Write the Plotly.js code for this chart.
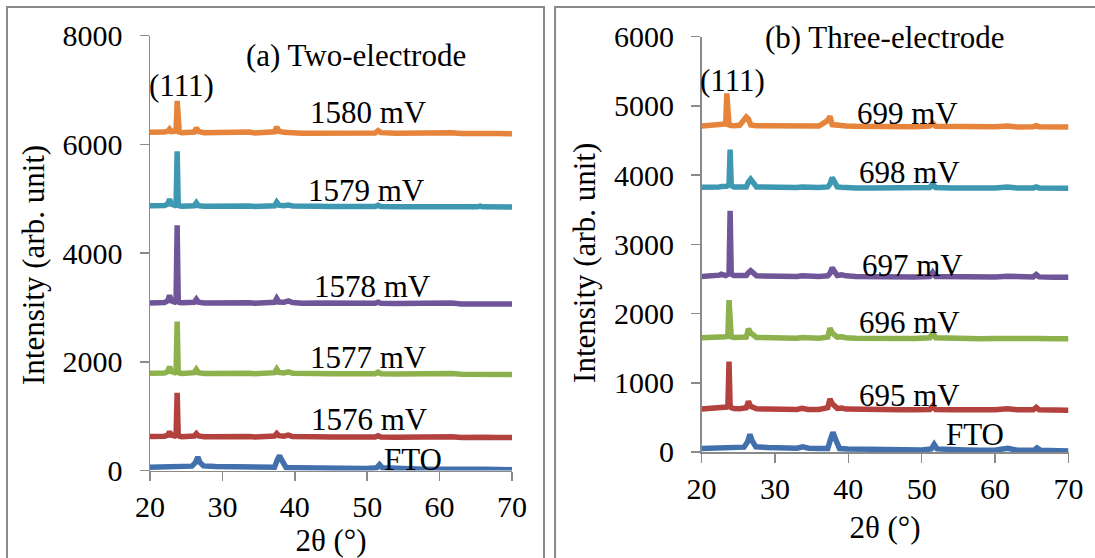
<!DOCTYPE html>
<html>
<head>
<meta charset="utf-8">
<script src="https://cdn.plot.ly/plotly-3.0.1.min.js"></script>
<style>
html,body{margin:0;padding:0;background:#fff;}
#chart{width:1095px;height:558px;}
</style>
</head>
<body>
<div id="chart"></div>
<script>
// ---- 2θ grids (degrees) ----
var thetaFilm = [20, 21, 22, 22.45, 22.7, 22.95, 23.3, 23.45, 23.6, 23.75, 23.9, 24.05, 24.4, 25.2, 26.1, 26.4, 26.7, 27.5, 29, 31, 33, 33.7, 34.5, 36, 37.2, 37.5, 37.8, 38.5, 39.1, 39.7, 41, 43, 45, 47, 49, 51.1, 51.5, 51.9, 54, 56, 58, 60, 61.7, 63, 65.2, 65.6, 66, 68, 70];
var thetaFTO = [20, 21.5, 23, 24.5, 25.8, 26.3, 26.6, 26.9, 27.4, 29, 31, 33, 33.8, 34.6, 36, 37.2, 37.6, 37.9, 38.2, 38.8, 40, 42, 44, 46, 48, 50, 51.3, 51.7, 52.1, 54, 56, 58, 60, 61.7, 63, 65.3, 65.7, 66.2, 68, 70];

// ---- (a) Two-electrode intensities ----
var a_FTO  = [60, 65, 70, 75, 80, 150, 250, 150, 85, 75, 70, 65, 80, 65, 60, 60, 200, 275, 190, 55, 50, 45, 45, 40, 40, 35, 50, 110, 50, 30, 30, 25, 25, 45, 25, 25, 50, 25, 20, 15];
var a_1576 = [625, 620, 630, 650, 715, 650, 630, 635, 650, 1430, 655, 630, 620, 625, 635, 680, 635, 620, 625, 615, 620, 625, 615, 620, 635, 680, 640, 630, 650, 625, 615, 620, 615, 610, 615, 615, 640, 615, 610, 615, 605, 610, 620, 605, 610, 625, 610, 605, 605];
var a_1577 = [1790, 1785, 1795, 1820, 1910, 1820, 1795, 1800, 1815, 2740, 1820, 1795, 1785, 1790, 1800, 1860, 1800, 1785, 1790, 1780, 1785, 1790, 1780, 1785, 1800, 1865, 1805, 1795, 1815, 1790, 1780, 1785, 1780, 1775, 1780, 1780, 1810, 1780, 1775, 1780, 1770, 1775, 1785, 1770, 1770, 1785, 1770, 1770, 1765];
var a_1578 = [3080, 3085, 3090, 3120, 3220, 3120, 3090, 3095, 3110, 4510, 3120, 3090, 3085, 3085, 3095, 3150, 3095, 3080, 3085, 3075, 3080, 3085, 3075, 3080, 3095, 3165, 3100, 3095, 3120, 3090, 3075, 3080, 3075, 3070, 3075, 3075, 3095, 3075, 3070, 3075, 3065, 3070, 3080, 3065, 3070, 3080, 3070, 3065, 3065];
var a_1579 = [4870, 4865, 4875, 4900, 4990, 4900, 4870, 4875, 4890, 5870, 4900, 4870, 4860, 4865, 4870, 4925, 4870, 4860, 4865, 4855, 4860, 4865, 4855, 4860, 4870, 4935, 4880, 4870, 4885, 4865, 4855, 4860, 4855, 4850, 4855, 4855, 4880, 4855, 4850, 4855, 4845, 4850, 4865, 4850, 4850, 4865, 4850, 4845, 4845];
var a_1580 = [6220, 6215, 6225, 6240, 6280, 6235, 6230, 6240, 6245, 6800, 6250, 6225, 6215, 6220, 6225, 6300, 6235, 6215, 6220, 6210, 6215, 6225, 6210, 6215, 6230, 6320, 6240, 6220, 6230, 6215, 6205, 6210, 6215, 6205, 6210, 6210, 6250, 6215, 6205, 6210, 6200, 6205, 6215, 6200, 6205, 6220, 6205, 6200, 6195];

// ---- (b) Three-electrode intensities ----
var b_FTO = [50, 55, 60, 65, 70, 150, 255, 160, 75, 65, 60, 55, 75, 55, 50, 50, 190, 285, 200, 50, 45, 40, 40, 35, 35, 30, 45, 110, 45, 30, 30, 25, 25, 55, 25, 25, 60, 25, 20, 15];
var b_695 = [620, 625, 630, 635, 640, 640, 645, 650, 670, 1305, 665, 640, 630, 625, 640, 730, 660, 625, 620, 615, 615, 630, 615, 615, 640, 765, 700, 630, 635, 620, 615, 610, 610, 610, 610, 615, 665, 615, 610, 610, 605, 610, 625, 610, 610, 645, 610, 605, 605];
var b_696 = [1650, 1650, 1655, 1660, 1660, 1660, 1665, 1670, 1700, 2195, 1690, 1665, 1655, 1650, 1660, 1780, 1720, 1655, 1650, 1645, 1645, 1655, 1645, 1645, 1660, 1790, 1720, 1660, 1665, 1650, 1645, 1640, 1640, 1640, 1640, 1650, 1720, 1650, 1640, 1640, 1635, 1640, 1650, 1640, 1640, 1650, 1640, 1635, 1635];
var b_697 = [2535, 2540, 2545, 2555, 2570, 2555, 2550, 2555, 2560, 2580, 3485, 2570, 2550, 2545, 2550, 2590, 2620, 2545, 2540, 2535, 2535, 2545, 2535, 2535, 2545, 2580, 2660, 2550, 2560, 2545, 2535, 2530, 2530, 2530, 2530, 2535, 2595, 2535, 2530, 2530, 2525, 2530, 2540, 2530, 2530, 2565, 2530, 2525, 2525];
var b_698 = [3825, 3820, 3825, 3830, 3835, 3830, 3835, 3840, 3850, 3870, 4370, 3850, 3830, 3825, 3830, 3900, 3940, 3830, 3825, 3820, 3820, 3830, 3820, 3820, 3830, 3870, 3965, 3830, 3825, 3820, 3815, 3815, 3815, 3810, 3815, 3820, 3875, 3820, 3815, 3815, 3810, 3815, 3830, 3815, 3815, 3830, 3815, 3810, 3810];
var b_699 = [4710, 4715, 4720, 4740, 4730, 4725, 4740, 5180, 4740, 4725, 4720, 4715, 4715, 4720, 4840, 4810, 4725, 4715, 4715, 4710, 4705, 4715, 4705, 4710, 4790, 4850, 4730, 4720, 4725, 4710, 4705, 4700, 4705, 4700, 4700, 4710, 4750, 4705, 4700, 4700, 4695, 4700, 4710, 4695, 4700, 4715, 4700, 4695, 4695];

// ---- ticks & labels ----
var xTicks = [20, 30, 40, 50, 60, 70];
var yTicksA = [0, 2000, 4000, 6000, 8000];
var yTicksB = [0, 1000, 2000, 3000, 4000, 5000, 6000];
var labelsA = ['FTO', '1576 mV', '1577 mV', '1578 mV', '1579 mV', '1580 mV'];
var labelsB = ['FTO', '695 mV', '696 mV', '697 mV', '698 mV', '699 mV'];
var labelXA = [56.3, 50.3, 50.2, 50.7, 49.9, 50.2];
var labelYA = [196, 943, 2075, 3385, 5152, 6592];
var labelXB = [57.3, 48.4, 48.4, 48.7, 48.4, 48.1];
var labelYB = [247, 823, 1877, 2699, 4036, 4895];
var yTitle = 'Intensity (arb. unit)';
var xTitle = '2θ (°)';

var colors = ['#4270AD', '#B3423F', '#8DB24D', '#6F5698', '#3F98B2', '#E5843A'];
var FONT = 'Liberation Serif';

var seriesA = [a_FTO, a_1576, a_1577, a_1578, a_1579, a_1580];
var seriesB = [b_FTO, b_695, b_696, b_697, b_698, b_699];

var traces = [];
seriesA.forEach(function (ys, i) {
  traces.push({x: i === 0 ? thetaFTO : thetaFilm, y: ys, type: 'scatter', mode: 'lines',
    line: {color: colors[i], width: 5.5}, xaxis: 'x', yaxis: 'y', name: labelsA[i], showlegend: false, hoverinfo: 'skip'});
});
seriesB.forEach(function (ys, i) {
  traces.push({x: i === 0 ? thetaFTO : thetaFilm, y: ys, type: 'scatter', mode: 'lines',
    line: {color: colors[i], width: 5.5}, xaxis: 'x2', yaxis: 'y2', name: labelsB[i], showlegend: false, hoverinfo: 'skip'});
});

var annFont = {family: FONT, size: 31, color: '#000'};
var annotations = [];
labelsA.forEach(function (t, i) {
  annotations.push({text: t, x: labelXA[i], y: labelYA[i], xref: 'x', yref: 'y', showarrow: false, font: annFont, xanchor: 'center', yanchor: 'middle'});
});
labelsB.forEach(function (t, i) {
  annotations.push({text: t, x: labelXB[i], y: labelYB[i], xref: 'x2', yref: 'y2', showarrow: false, font: annFont, xanchor: 'center', yanchor: 'middle'});
});
annotations.push({text: '(a) Two-electrode', x: 48.5, y: 7640, xref: 'x', yref: 'y', showarrow: false, font: annFont, xanchor: 'center', yanchor: 'middle'});
annotations.push({text: '(111)', x: 24.3, y: 7083, xref: 'x', yref: 'y', showarrow: false, font: annFont, xanchor: 'center', yanchor: 'middle'});
annotations.push({text: '(b) Three-electrode', x: 45.0, y: 5990, xref: 'x2', yref: 'y2', showarrow: false, font: annFont, xanchor: 'center', yanchor: 'middle'});
annotations.push({text: '(111)', x: 24.2, y: 5373, xref: 'x2', yref: 'y2', showarrow: false, font: annFont, xanchor: 'center', yanchor: 'middle'});
// y-axis titles (placed as rotated labels to sit where the reference has them)
annotations.push({text: yTitle, textangle: -90, x: 0.0301, y: 0.525, xref: 'paper', yref: 'paper', showarrow: false, font: annFont, xanchor: 'center', yanchor: 'middle'});
annotations.push({text: yTitle, textangle: -90, x: 0.5342, y: 0.5287, xref: 'paper', yref: 'paper', showarrow: false, font: annFont, xanchor: 'center', yanchor: 'middle'});

function axBase() {
  return {showgrid: false, zeroline: false, showline: true, linecolor: '#8a8a8a', linewidth: 1.5,
    ticks: 'outside', ticklen: 9, tickwidth: 1.5, tickcolor: '#8a8a8a',
    tickfont: {family: FONT, size: 30, color: '#000'}, fixedrange: true};
}
var titleFont = {family: FONT, size: 31, color: '#000'};
var xa = Object.assign(axBase(), {domain: [0.13699, 0.46758], range: [20, 70], tickvals: xTicks, anchor: 'y',
  ticklabelstandoff: 0, title: {text: xTitle, font: titleFont, standoff: 10}});
var ya = Object.assign(axBase(), {domain: [0.15681, 0.9362], range: [0, 8000], tickvals: yTicksA, anchor: 'x',
  ticklabelstandoff: 11});
var xb = Object.assign(axBase(), {domain: [0.64064, 0.97580], range: [20, 70], tickvals: xTicks, anchor: 'y2',
  ticklabelstandoff: 0, title: {text: xTitle, font: titleFont, standoff: 13}});
var yb = Object.assign(axBase(), {domain: [0.18996, 0.93423], range: [0, 6000], tickvals: yTicksB, anchor: 'x2',
  ticklabelstandoff: 11});

var layout = {
  width: 1095, height: 558, margin: {l: 0, r: 0, t: 0, b: 0},
  font: {family: FONT, size: 30, color: '#000'},
  paper_bgcolor: '#fff', plot_bgcolor: 'rgba(0,0,0,0)', showlegend: false,
  xaxis: xa, yaxis: ya, xaxis2: xb, yaxis2: yb,
  annotations: annotations,
  shapes: [
    {type: 'rect', xref: 'paper', yref: 'paper', x0: 0.0064, x1: 0.4968, y0: -0.05, y1: 0.9875, line: {color: '#8a8a8a', width: 2}},
    {type: 'rect', xref: 'paper', yref: 'paper', x0: 0.5069, x1: 1.02, y0: -0.05, y1: 0.9875, line: {color: '#8a8a8a', width: 2}}
  ]
};
Plotly.newPlot('chart', traces, layout, {displayModeBar: false, staticPlot: true});
</script>
</body>
</html>
